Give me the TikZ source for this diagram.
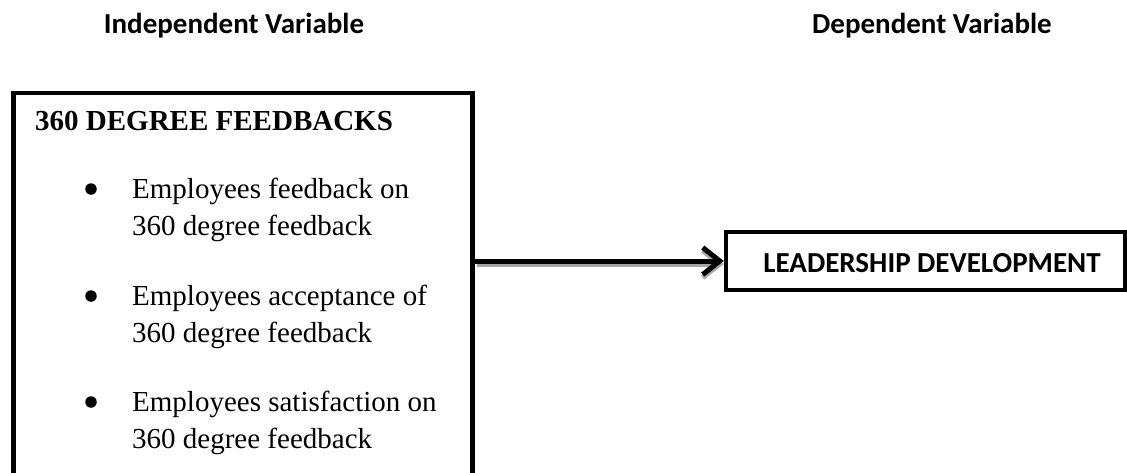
\documentclass[tikz,border=0pt]{standalone}
\usepackage{fontspec}
\setmainfont{Liberation Serif}
\newfontfamily\calibri{Carlito}
\usetikzlibrary{arrows.meta}
\begin{document}
\begin{tikzpicture}[x=1pt,y=-1pt,
  varhead/.style={font=\calibri\bfseries\fontsize{29}{35}\selectfont, anchor=base, inner sep=0pt},
  boxhead/.style={font=\bfseries\fontsize{29}{35}\selectfont, anchor=base west, inner sep=0pt},
  itemtext/.style={font=\fontsize{29}{35}\selectfont, anchor=base west, inner sep=0pt},
  dot/.style={circle, fill=black, inner sep=0pt, minimum size=11.5pt},
  framebox/.style={draw=black, line width=4.5pt, fill=white, inner sep=0pt},
  link/.style={line width=5pt, -{Straight Barb[length=17pt,width=27pt,line width=5pt]}},
  linkshadow/.style={line width=5pt, draw=black!35, -{Straight Barb[length=17pt,width=27pt,line width=5pt]}}
]
\useasboundingbox (0,0) rectangle (1127,472);
\clip (0,0) rectangle (1127,472);

% column titles
\node[varhead] (iv) at (234,33) {Independent Variable};
\node[varhead] (dv) at (932,33) {Dependent Variable};

% independent variable box (runs off the bottom edge)
\node[framebox, minimum width=459pt, minimum height=427pt] (ivbox) at (243,306.5) {};
\node[boxhead] (ivtitle) at (35,130) {360 DEGREE FEEDBACKS};

\node[dot] (b1) at (91,189) {};
\node[itemtext] (t1a) at (132,198) {Employees feedback on};
\node[itemtext] (t1b) at (132,235) {360 degree feedback};

\node[dot] (b2) at (91,296) {};
\node[itemtext] (t2a) at (132,305) {Employees acceptance of};
\node[itemtext] (t2b) at (132,342) {360 degree feedback};

\node[dot] (b3) at (91,402) {};
\node[itemtext] (t3a) at (132,411) {Employees satisfaction on};
\node[itemtext] (t3b) at (132,448) {360 degree feedback};

% dependent variable box
\node[framebox, minimum width=399pt, minimum height=58pt] (dvbox) at (925.5,261) {};
\node[font=\calibri\bfseries\fontsize{29}{35}\selectfont, anchor=base, inner sep=0pt] (dvtext) at (932,272) {LEADERSHIP DEVELOPMENT};

% connector with its soft shadow
\draw[linkshadow] ([xshift=2pt,yshift=-3pt]ivbox.east |- dvbox.west) -- ([xshift=0pt,yshift=-3pt]dvbox.west);
\draw[link] (ivbox.east |- dvbox.west) -- (dvbox.west);
\end{tikzpicture}
\end{document}
